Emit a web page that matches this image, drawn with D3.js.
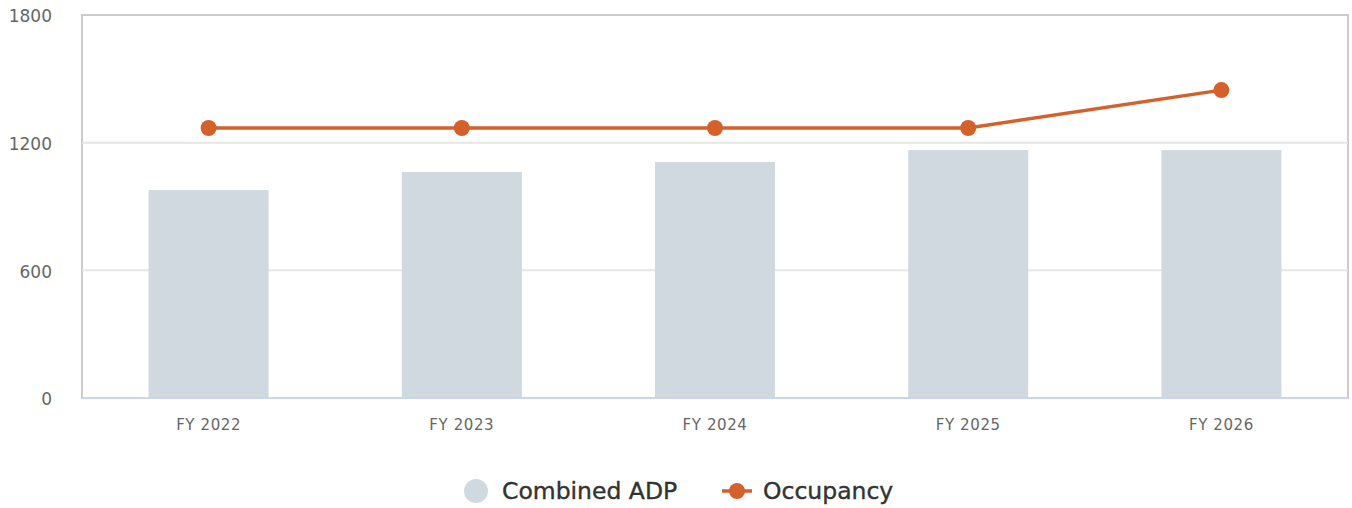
<!DOCTYPE html>
<html>
<head>
<meta charset="utf-8">
<script src="https://cdn.jsdelivr.net/npm/d3@7"></script>
<style>
  html, body { margin: 0; padding: 0; background: #fff; }
  svg { display: block; }
  text { font-family: "DejaVu Sans", Verdana, sans-serif; }
</style>
</head>
<body>
<svg id="chart" width="1352" height="508"></svg>
<script>
// Fiscal years on the x axis
const categories = ["FY 2022", "FY 2023", "FY 2024", "FY 2025", "FY 2026"];
// Combined average daily population (bars)
const combinedADP = [977, 1062, 1109, 1165, 1165];
// Occupancy (line)
const occupancy = [1269, 1269, 1269, 1269, 1447];
// Y axis ticks
const yTicks = [0, 600, 1200, 1800];

const FONT = "DejaVu Sans, Verdana, sans-serif";
const svg = d3.select("#chart");
const margin = { left: 82, top: 15, right: 4, bottom: 110 };
const W = 1352, H = 508;
const plotRight = W - margin.right;
const plotBottom = H - margin.bottom;

const x = d3.scaleBand().domain(categories).range([margin.left, plotRight]).paddingInner(0.526).paddingOuter(0.263);
const y = d3.scaleLinear().domain([0, 1800]).range([plotBottom, margin.top]);

// Plot frame
svg.append("rect")
  .attr("x", margin.left).attr("y", margin.top)
  .attr("width", plotRight - margin.left).attr("height", plotBottom - margin.top)
  .attr("fill", "none").attr("stroke", "#cccccc").attr("stroke-width", 2);

// Grid lines
svg.append("g").selectAll("line").data(yTicks.filter(d => d > 0 && d < 1800)).join("line")
  .attr("x1", margin.left).attr("x2", plotRight)
  .attr("y1", d => y(d)).attr("y2", d => y(d))
  .attr("stroke", "#e6e6e6").attr("stroke-width", 2);

// Y axis labels
const yAxis = d3.axisLeft(y).tickValues(yTicks).tickSize(0).tickPadding(0).tickFormat(d3.format("d"));
svg.append("g").attr("transform", `translate(${margin.left - 30},0)`).call(yAxis)
  .attr("font-family", FONT)
  .call(g => g.select(".domain").remove())
  .call(g => g.selectAll("text").attr("fill", "#666").attr("font-size", 17).attr("dy", "0.4em"));

// Bars
svg.append("g").selectAll("rect").data(combinedADP).join("rect")
  .attr("x", (d, i) => x(categories[i]))
  .attr("y", d => y(d))
  .attr("width", x.bandwidth())
  .attr("height", d => plotBottom - y(d))
  .attr("fill", "#d0d9df");

// X axis
const xAxis = d3.axisBottom(x).tickSize(0).tickPadding(0);
svg.append("g").attr("transform", `translate(0,${plotBottom})`).call(xAxis)
  .attr("font-family", FONT)
  .call(g => g.select(".domain").attr("stroke", "#ccd6eb").attr("stroke-width", 2).attr("d", `M${margin.left},0H${plotRight}`))
  .call(g => g.selectAll("text").attr("fill", "#666").attr("font-size", 15)
    .attr("letter-spacing", 0.6).attr("y", 27).attr("dy", "0.35em"));

// Occupancy line
const cx = i => x(categories[i]) + x.bandwidth() / 2;
const line = d3.line().x((d, i) => cx(i)).y(d => y(d));
svg.append("path").datum(occupancy)
  .attr("d", line).attr("fill", "none")
  .attr("stroke", "#d4602a").attr("stroke-width", 3.5);
svg.append("g").selectAll("circle").data(occupancy).join("circle")
  .attr("cx", (d, i) => cx(i)).attr("cy", d => y(d)).attr("r", 8)
  .attr("fill", "#d4602a");

// Legend
const legend = svg.append("g").attr("transform", "translate(0,491)").attr("font-family", FONT);
legend.append("circle").attr("cx", 476).attr("cy", 0).attr("r", 12).attr("fill", "#d0d9df");
legend.append("text").attr("x", 502).attr("y", 0).attr("dy", "0.36em")
  .attr("font-size", 23.5).attr("fill", "#333").attr("stroke", "#333").attr("stroke-width", 0.4)
  .text("Combined ADP");
legend.append("line").attr("x1", 722).attr("x2", 752).attr("y1", 0).attr("y2", 0)
  .attr("stroke", "#d4602a").attr("stroke-width", 3.5);
legend.append("circle").attr("cx", 737).attr("cy", 0).attr("r", 8).attr("fill", "#d4602a");
legend.append("text").attr("x", 763).attr("y", 0).attr("dy", "0.36em")
  .attr("font-size", 23.5).attr("fill", "#333").attr("stroke", "#333").attr("stroke-width", 0.4)
  .text("Occupancy");
</script>
</body>
</html>
